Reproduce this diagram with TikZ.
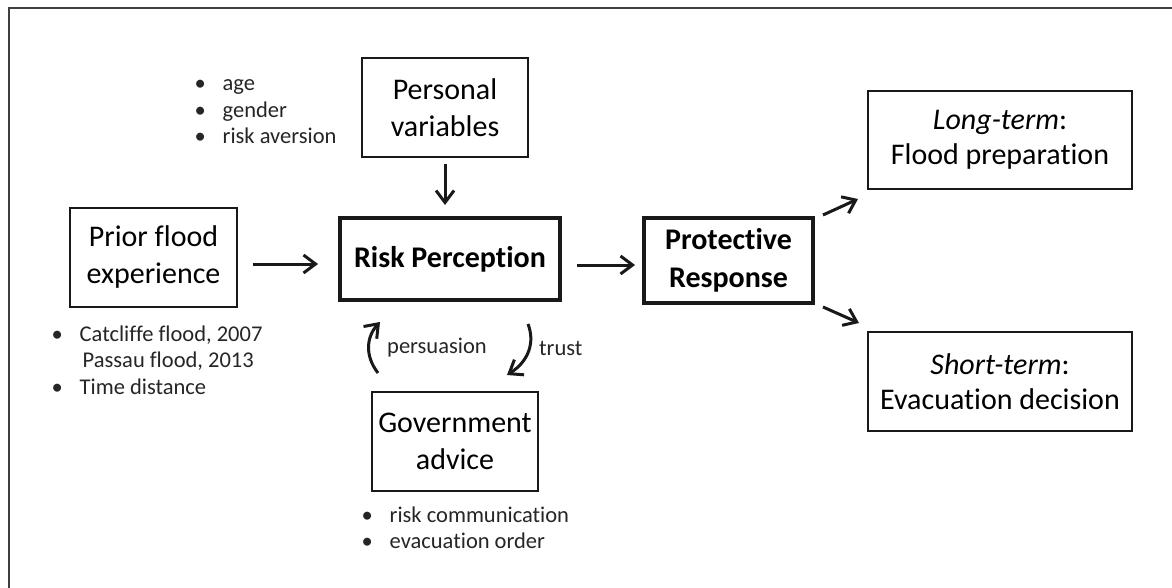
\documentclass[tikz,border=0pt]{standalone}
\usepackage{fontspec}
\setmainfont{Carlito}[Ligatures={NoCommon,NoRare}]
\usetikzlibrary{arrows.meta,calc}
\newcommand\bulx{\makebox[28pt][l]{•}}
\begin{document}
\begin{tikzpicture}[x=1pt,y=-1pt,
  box/.style={draw=black!90, line width=2pt, inner sep=0pt, align=center,
    font=\fontsize{30}{37}\selectfont, text=black},
  thickbox/.style={box, line width=4pt, font=\fontsize{30}{38}\selectfont\bfseries},
  blist/.style={anchor=west, inner sep=0pt, align=left,
    font=\fontsize{22.5}{26.5}\selectfont, text=black!85},
  lbl/.style={inner sep=0pt, font=\fontsize{22.5}{26.5}\selectfont, text=black!85},
  arr/.style={-{Straight Barb[length=12pt,width=18pt,line width=3pt]}, line width=3pt, black!90}]
\clip (0,0) rectangle (1172,588);
\fill[white] (0,0) rectangle (1172,588);
\draw[line width=2pt, black!75] (9,620) -- (9,8) -- (1200,8);

% nodes
\node[box, minimum width=166pt, minimum height=99pt] (pv) at (445,107.5) {Personal\\variables};
\node[box, minimum width=167pt, minimum height=99pt] (pf) at (153.5,257.5) {Prior flood\\experience};
\node[thickbox, minimum width=220pt, minimum height=82pt] (rp) at (450,259) {Risk Perception};
\node[box, minimum width=166pt, minimum height=99pt] (ga) at (455,441.5) {Government\\advice};
\node[thickbox, minimum width=169pt, minimum height=85pt] (pr) at (728.5,260.5) {Protective\\Response};
\node[box, minimum width=264pt, minimum height=98pt, font=\fontsize{30}{35}\selectfont] (lt) at (1000,140) {\textit{Long-term}:\\Flood preparation};
\node[box, minimum width=264pt, minimum height=99pt, font=\fontsize{30}{35}\selectfont] (st) at (1000,381.5) {\textit{Short-term}:\\Evacuation decision};

% bullet lists
\node[blist] (pvl) at (194.5,112) {\bulx age\\\bulx gender\\\bulx risk aversion};
\node[blist] (pfl) at (51.5,360) {\bulx Catcliffe flood, 2007\\\hspace{31pt}Passau flood, 2013\\\bulx Time distance};
\node[blist] (gal) at (361.5,528) {\bulx risk communication\\\bulx evacuation order};

% straight arrows
\draw[arr] ($(pv.south)+(0,6)$) -- ($(pv.south |- rp.north)+(0,-11)$);
\draw[arr] ($(pf.east)+(15,6.5)$) -- ($(rp.west)+(-20,5)$);
\draw[arr] ($(rp.east)+(15,6)$) -- ($(pr.west)+(-7,4.5)$);
\draw[arr] ($(pr.north east)+(8,-1)$) -- ($(lt.south west)+(-9,9)$);
\draw[arr] ($(pr.south east)+(8,2)$) -- ($(st.north west)+(-8,-8)$);

% curved arrows
\coordinate (p1) at ($(ga.north west)+(7,-18)$);
\coordinate (p2) at ($(rp.south west)+(42,20)$);
\coordinate (t1) at ($(rp.south west)+(190,22)$);
\coordinate (t2) at ($(ga.north west)+(136,-16)$);
\draw[arr] (p1) .. controls +(-14,-18) and +(-13,14) .. (p2);
\draw[arr] (t1) .. controls +(7,18) and +(22,-14) .. (t2);
\node[lbl, anchor=west] (lp) at (387,348) {persuasion};
\node[lbl, anchor=west] (lt2) at (539,348) {trust};
\end{tikzpicture}
\end{document}
